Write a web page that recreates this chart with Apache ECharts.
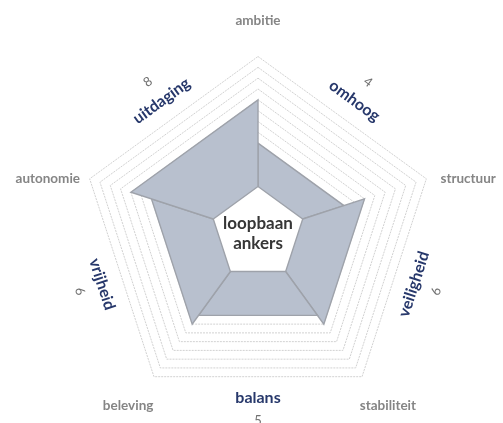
<!DOCTYPE html>
<html>
<head>
<meta charset="utf-8">
<style>
  html, body { margin: 0; padding: 0; background: #fff; }
  #chart { width: 503px; height: 423px; }
</style>
</head>
<body>
<div id="chart"></div>
<script src="https://cdn.jsdelivr.net/npm/echarts@6/dist/echarts.min.js"></script>
<script>
// anchor axes, clockwise starting at the top
const anchorNames = ['ambitie', 'structuur', 'stabiliteit', 'beleving', 'autonomie'];
// group i sits between anchor i and anchor i + 1
const groupNames = ['omhoog', 'veiligheid', 'balans', 'vrijheid', 'uitdaging'];
const groupScores = [4, 6, 5, 6, 8];
const ringValues = [1, 2, 3, 4, 5, 6, 7, 8, 9, 10, 11, 12];
const centerLines = ['loopbaan', 'ankers'];

const SCALE_MAX = 12;
const SCALE_MIN = -4.34; // keeps the white hole in the middle
const GROUP_LABEL_R = 10.8;
const GROUP_NUMBER_R = 12.95;
const FONT = 'Lato, "Open Sans", sans-serif';

function anchorAngle(i) {
  return ((90 - 72 * i) % 360 + 360) % 360;
}
function groupAngle(i) {
  return ((54 - 72 * i) % 360 + 360) % 360;
}
function edgeRotation(mid) {
  let t = mid - 90;
  while (t > 180) t -= 360;
  while (t <= -180) t += 360;
  if (t > 90) t -= 180;
  if (t < -90) t += 180;
  return t * Math.PI / 180;
}

const chart = echarts.init(document.getElementById('chart'));

const option = {
  animation: false,
  backgroundColor: '#fff',
  polar: {
    center: [258, 233.5],
    radius: 177
  },
  angleAxis: {
    type: 'value',
    min: 0,
    max: 360,
    startAngle: 0,
    clockwise: false,
    show: false
  },
  radiusAxis: {
    type: 'value',
    min: SCALE_MIN,
    max: SCALE_MAX,
    show: false
  },
  series: [
    {
      // pentagon rings
      type: 'custom',
      coordinateSystem: 'polar',
      silent: true,
      encode: { radius: 0, angle: 1 },
      data: ringValues.map(v => [v, 90]),
      renderItem(params, api) {
        const v = api.value(0);
        const pts = anchorNames.map((n, i) => api.coord([v, anchorAngle(i)]));
        return {
          type: 'polygon',
          shape: { points: pts },
          style: { fill: 'none', stroke: '#d2d2d2', lineWidth: 1, lineDash: [2, 1] }
        };
      }
    },
    {
      // score wedges with their labels
      type: 'custom',
      coordinateSystem: 'polar',
      silent: true,
      encode: { radius: 0, angle: 1 },
      data: groupScores.map((s, i) => [s, groupAngle(i)]),
      renderItem(params, api) {
        const i = params.dataIndex;
        const s = api.value(0);
        const a1 = anchorAngle(i);
        const a2 = anchorAngle(i + 1);
        const mid = groupAngle(i);
        const rot = edgeRotation(mid);
        const pts = [
          api.coord([s, a1]),
          api.coord([s, a2]),
          api.coord([0, a2]),
          api.coord([0, a1])
        ];
        const pl = api.coord([GROUP_LABEL_R, mid]);
        const pn = api.coord([GROUP_NUMBER_R, mid]);
        return {
          type: 'group',
          children: [
            {
              type: 'polygon',
              shape: { points: pts },
              style: { fill: '#b8c0ce', stroke: '#9ea2aa', lineWidth: 1.4, lineJoin: 'miter' }
            },
            {
              type: 'text',
              x: pl[0], y: pl[1], rotation: rot,
              style: {
                text: groupNames[i], fill: '#27386b',
                font: 'bold 16px ' + FONT, align: 'center', verticalAlign: 'middle'
              }
            },
            {
              type: 'text',
              x: pn[0], y: pn[1], rotation: rot,
              style: {
                text: String(groupScores[i]), fill: '#707070',
                font: '13px ' + FONT, align: 'center', verticalAlign: 'middle'
              }
            }
          ]
        };
      }
    },
    {
      // anchor names around the outside
      type: 'custom',
      coordinateSystem: 'polar',
      silent: true,
      encode: { radius: 0, angle: 1 },
      data: anchorNames.map((n, i) => [SCALE_MAX, anchorAngle(i)]),
      renderItem(params, api) {
        const i = params.dataIndex;
        const a = anchorAngle(i) * Math.PI / 180;
        const p = api.coord([SCALE_MAX, anchorAngle(i)]);
        const dx = Math.cos(a) * 44;
        const dy = Math.abs(Math.sin(a)) > 0.5 ? -Math.sin(a) * 36 : 0;
        return {
          type: 'text',
          x: p[0] + dx, y: p[1] + dy,
          style: {
            text: anchorNames[i], fill: '#858585',
            font: 'bold 13.5px ' + FONT, align: 'center', verticalAlign: 'middle'
          }
        };
      }
    },
    {
      // title in the hole
      type: 'custom',
      coordinateSystem: 'polar',
      silent: true,
      encode: { radius: 0, angle: 1 },
      data: [[SCALE_MIN, 90]],
      renderItem(params, api) {
        const p = api.coord([SCALE_MIN, 90]);
        return {
          type: 'text',
          x: p[0], y: p[1],
          style: {
            text: centerLines.join('\n'), fill: '#363636',
            font: 'bold 17px ' + FONT, lineHeight: 20,
            align: 'center', verticalAlign: 'middle'
          }
        };
      }
    }
  ]
};

chart.setOption(option);
</script>
</body>
</html>
